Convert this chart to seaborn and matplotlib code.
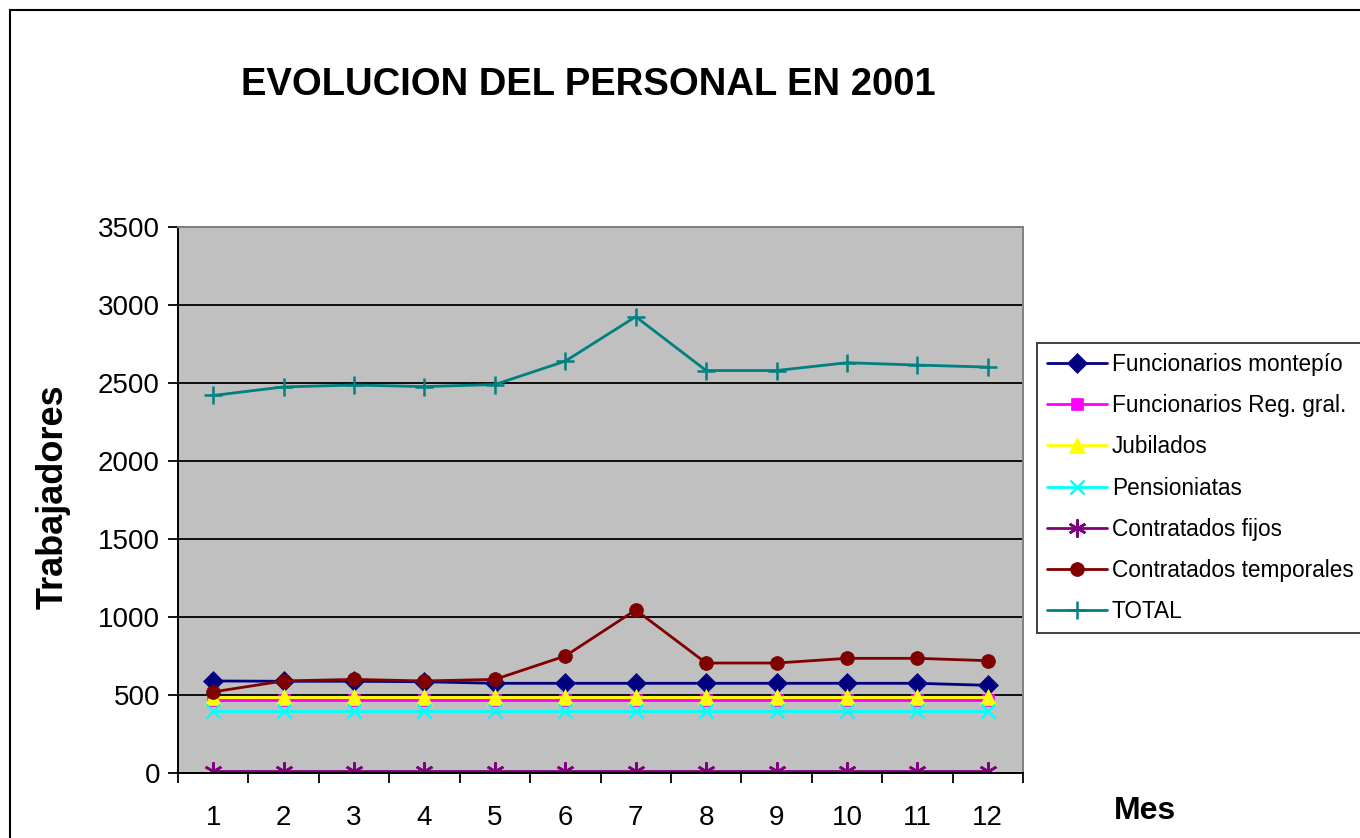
import numpy as np
import pandas as pd
import matplotlib
matplotlib.use("Agg")
import matplotlib.pyplot as plt
import seaborn as sns
from matplotlib.patches import Rectangle

months = list(range(1, 13))
montepio = [590, 588, 588, 585, 575, 575, 575, 575, 575, 575, 575, 562]
reg_gral = [465, 465, 465, 465, 465, 465, 465, 465, 465, 465, 465, 465]
jubilados = [485, 485, 485, 485, 485, 485, 485, 485, 485, 485, 485, 485]
pensionistas = [395, 395, 395, 395, 395, 395, 395, 395, 395, 395, 395, 395]
fijos = [12, 12, 12, 12, 12, 12, 12, 12, 12, 12, 12, 12]
temporales = [520, 590, 600, 590, 600, 750, 1045, 705, 705, 735, 735, 720]
total = [2420, 2475, 2487, 2477, 2490, 2640, 2925, 2580, 2580, 2630, 2615, 2602]

series_names = ["Funcionarios montepío", "Funcionarios Reg. gral.", "Jubilados",
                "Pensioniatas", "Contratados fijos", "Contratados temporales", "TOTAL"]
series_vals = [montepio, reg_gral, jubilados, pensionistas, fijos, temporales, total]
colors = ["#000080", "#FF00FF", "#FFFF00", "#00FFFF", "#800080", "#800000", "#008080"]
markers = ["D", "s", "^", "x", (6, 2, 0), "o", "+"]
msizes = [10, 8, 11, 10, 13, 10, 13]

sns.set_theme(style="white")
plt.rcParams['font.family'] = ['Liberation Sans', 'DejaVu Sans']

fig = plt.figure(figsize=(13.6, 8.38), dpi=100)
ax = fig.add_axes([178/1360, 1-773/838, (1023-178)/1360, (773-227)/838])
ax.set_facecolor("#C0C0C0")

for name, vals, c, m, ms in zip(series_names, series_vals, colors, markers, msizes):
    df = pd.DataFrame({"Mes": months, "v": vals})
    sns.lineplot(data=df, x="Mes", y="v", ax=ax, color=c, marker=m, markersize=ms,
                 linewidth=2.0, markeredgecolor=c, markerfacecolor=c,
                 markeredgewidth=1.8 if m in ("x", "+") or isinstance(m, tuple) else 0.5,
                 label=name)

ax.set_xlim(0.5, 12.5)
ax.set_ylim(0, 3500)
ax.set_yticks(np.arange(0, 3501, 500))
ax.set_xticks(months)
ax.set_xticks(np.arange(0.5, 12.6, 1), minor=True)
ax.yaxis.grid(True, color="black", linewidth=1.3)
ax.set_axisbelow(True)
ax.tick_params(axis="x", which="major", length=0, labelsize=20, pad=23, colors="black")
ax.tick_params(axis="x", which="minor", length=7, width=1.3, color="black", direction="out", bottom=True)
ax.tick_params(axis="y", which="major", length=7, width=1.3, color="black", labelsize=20,
               direction="out", left=True, pad=6)
for lab in ax.get_xticklabels() + ax.get_yticklabels():
    lab.set_color("black")

for side in ["left", "bottom"]:
    ax.spines[side].set_color("black")
    ax.spines[side].set_linewidth(1.4)
for side in ["top", "right"]:
    ax.spines[side].set_color("#808080")
    ax.spines[side].set_linewidth(1.4)

ax.set_xlabel("")
ax.set_ylabel("")
fig.text(53/1360, 1-497/838, "Trabajadores", fontsize=26, fontweight="bold",
         rotation=90, ha="center", va="center", color="black")

fig.text(588/1360, 1-85/838, "EVOLUCION DEL PERSONAL EN 2001", fontsize=27.5,
         fontweight="bold", ha="center", va="center", color="black")
fig.text(1145/1360, 1-811/838, "Mes", fontsize=23, fontweight="bold",
         ha="center", va="center", color="black")

leg = ax.legend(loc="upper left", bbox_to_anchor=(1037/1360, 1-343/838),
                bbox_transform=fig.transFigure, fontsize=16.3, frameon=True,
                fancybox=False, edgecolor="black", facecolor="white",
                handlelength=2.65, handletextpad=0.2, labelspacing=0.8,
                borderpad=0.45, borderaxespad=0)
leg.get_frame().set_linewidth(1.3)
for t in leg.get_texts():
    t.set_color("black")

fig.patches.append(Rectangle((10/1360, -0.1), 1.2, 1-10/838+0.1, transform=fig.transFigure,
                             fill=False, edgecolor="black", linewidth=1.5))

fig.savefig("out.png", dpi=100, facecolor="white")
